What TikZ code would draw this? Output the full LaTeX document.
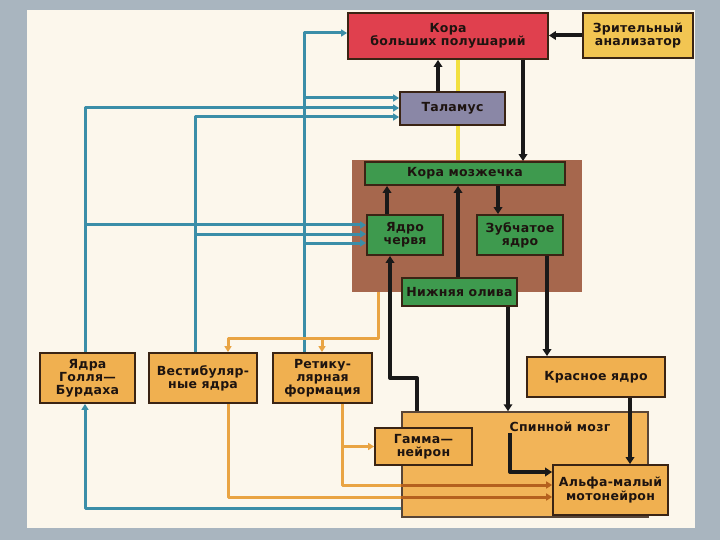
\documentclass[tikz,border=0pt]{standalone}
\usepackage{fontspec}
\setmainfont{DejaVu Sans}
\usetikzlibrary{arrows.meta}
\definecolor{sea}{HTML}{A9B5BF}
\definecolor{paper}{HTML}{FCF7EC}
\definecolor{redb}{HTML}{E0404E}
\definecolor{yelb}{HTML}{F2C552}
\definecolor{talb}{HTML}{8A87A6}
\definecolor{brownb}{HTML}{A6674D}
\definecolor{greenb}{HTML}{3E9A4E}
\definecolor{orb}{HTML}{F0B050}
\definecolor{spinb}{HTML}{F2B458}
\definecolor{edge}{HTML}{3A2414}
\definecolor{blueln}{HTML}{3B8EA8}
\definecolor{orln}{HTML}{E9A443}
\definecolor{orlnd}{HTML}{B5601E}
\definecolor{yelln}{HTML}{F2E040}
\definecolor{txt}{HTML}{1E1410}
\tikzset{
  box/.style={draw=edge, line width=1.8pt, inner sep=0pt, align=center, text=txt,
    font=\fontsize{12.5}{13.2}\selectfont\bfseries\addfontfeatures{LetterSpace=2}},
  bk/.style={line width=4pt, draw=black!90, line join=round, -{Triangle[length=7pt,width=8.5pt]}},
  bl/.style={line width=3pt, draw=blueln, line join=round, -{Triangle[length=6pt,width=7pt]}},
  orl/.style={line width=3pt, draw=orln, line join=round, -{Triangle[length=6pt,width=7pt]}},
  orld/.style={line width=3pt, draw=orlnd, -{Triangle[length=6pt,width=7pt]}},
  yl/.style={line width=3.2pt, draw=yelln},
}
\begin{document}
\begin{tikzpicture}[x=1pt,y=-1pt]
\useasboundingbox (0,0) rectangle (720,540);
\fill[sea] (0,0) rectangle (720,540);
\fill[paper] (27,10) rectangle (695,528);

% helper coordinates
\coordinate (xG) at (85,0);
\coordinate (xV) at (195,0);
\coordinate (xR) at (304,0);
\coordinate (yK) at (0,33);
\coordinate (yT1) at (0,98);
\coordinate (yT2) at (0,108);
\coordinate (yT3) at (0,117);
\coordinate (yC1) at (0,225);
\coordinate (yC2) at (0,234);
\coordinate (yC3) at (0,243);
\coordinate (yB) at (0,508);
\coordinate (xOa) at (378,0);
\coordinate (yO) at (0,338);
\coordinate (xVo) at (228,0);
\coordinate (xRo) at (322,0);
\coordinate (xRb) at (342,0);
\coordinate (yL1) at (0,485);
\coordinate (yL2) at (0,497);
\coordinate (xA) at (438,0);
\coordinate (xB) at (523,0);
\coordinate (xC) at (387,0);
\coordinate (xD) at (458,0);
\coordinate (xE) at (498,0);
\coordinate (xF) at (547,0);
\coordinate (xH) at (630,0);
\coordinate (xI) at (508,0);
\coordinate (xJ) at (417,0);
\coordinate (yJ) at (0,378);
\coordinate (xK) at (390,0);
\coordinate (xL) at (510,0);
\coordinate (yM) at (0,472);

% large containers
\node[draw=edge!85, line width=1.5pt, fill=spinb, minimum width=246pt, minimum height=105pt, inner sep=0pt] (spin) at (525,464.5) {};
\node[fill=brownb, minimum width=230pt, minimum height=132pt, inner sep=0pt] (brown) at (467,226) {};
\node[font=\fontsize{12.5}{13.2}\selectfont\bfseries\addfontfeatures{LetterSpace=2}, text=txt, inner sep=1pt] (spinlbl) at (560,427) {Спинной мозг};

% boxes
\node[box, fill=redb, minimum width=200pt, minimum height=46pt] (kora) at (448,36) {Кора\\больших полушарий};
\node[box, fill=yelb, minimum width=110pt, minimum height=45pt] (zrit) at (638,35.5) {Зрительный\\анализатор};
\node[box, fill=talb, minimum width=105pt, minimum height=33pt] (talamus) at (452.5,108.5) {Таламус};
\node[box, fill=greenb, minimum width=200pt, minimum height=23pt] (koramozh) at (465,173.5) {Кора мозжечка};
\node[box, fill=greenb, minimum width=76pt, minimum height=40pt] (cherv) at (405,235) {Ядро\\червя};
\node[box, fill=greenb, minimum width=86pt, minimum height=40pt] (zub) at (520,235) {Зубчатое\\ядро};
\node[box, fill=greenb, minimum width=115pt, minimum height=28pt] (oliva) at (459.5,292) {Нижняя олива};
\node[box, fill=orb, minimum width=138pt, minimum height=40pt] (krasn) at (596,377) {Красное ядро};
\node[box, fill=orb, minimum width=97pt, minimum height=37pt] (gamma) at (423.5,446.5) {Гамма—\\нейрон};
\node[box, fill=orb, minimum width=115pt, minimum height=50pt] (alfa) at (610.5,490) {Альфа-малый\\мотонейрон};
\node[box, fill=orb, minimum width=95pt, minimum height=50pt] (goll) at (87.5,378) {Ядра\\Голля—\\Бурдаха};
\node[box, fill=orb, minimum width=108pt, minimum height=50pt] (vest) at (203,378) {Вестибуляр-\\ные ядра};
\node[box, fill=orb, minimum width=99pt, minimum height=50pt] (retik) at (322.5,378) {Ретику-\\лярная\\формация};

% yellow line
\draw[yl] (kora.south -| xD) -- (talamus.north -| xD);
\draw[yl] (talamus.south -| xD) -- (brown.north -| xD);

% blue connectors
\draw[bl] (goll.north -| xG) -- (xG |- yT2) -- (talamus.west |- yT2);
\draw[bl] (xG |- yC1) -- (cherv.west |- yC1);
\draw[bl] (vest.north -| xV) -- (xV |- yT3) -- (talamus.west |- yT3);
\draw[bl] (xV |- yC2) -- (cherv.west |- yC2);
\draw[bl] (retik.north -| xR) -- (xR |- yK) -- (kora.west |- yK);
\draw[bl] (xR |- yT1) -- (talamus.west |- yT1);
\draw[bl] (xR |- yC3) -- (cherv.west |- yC3);
\draw[bl] (spin.west |- yB) -- (xG |- yB) -- (goll.south -| xG);

% orange connectors
\draw[orl] (brown.south -| xOa) -- (xOa |- yO) -- (xVo |- yO) -- (vest.north -| xVo);
\draw[orl] (xRo |- yO) -- (retik.north -| xRo);
\draw[orl] (vest.south -| xVo) -- (xVo |- yL2) -- (alfa.west |- yL2);
\draw[orl] (retik.south -| xRb) -- (xRb |- yL1) -- (alfa.west |- yL1);
\draw[orl] (xRb |- gamma.west) -- (gamma.west);
\draw[orld] (spin.west |- yL1) -- (alfa.west |- yL1);
\draw[orld] (spin.west |- yL2) -- (alfa.west |- yL2);

% black connectors
\draw[bk] (zrit.west) -- (kora.east |- zrit.west);
\draw[bk] (talamus.north -| xA) -- (kora.south -| xA);
\draw[bk] (kora.south -| xB) -- (koramozh.north -| xB);
\draw[bk] (cherv.north -| xC) -- (koramozh.south -| xC);
\draw[bk] (oliva.north -| xD) -- (koramozh.south -| xD);
\draw[bk] (koramozh.south -| xE) -- (zub.north -| xE);
\draw[bk] (zub.south -| xF) -- (krasn.north -| xF);
\draw[bk] (krasn.south -| xH) -- (alfa.north -| xH);
\draw[bk] (oliva.south -| xI) -- (spin.north -| xI);
\draw[bk] (spin.north -| xJ) -- (xJ |- yJ) -- (xK |- yJ) -- (cherv.south -| xK);
\draw[bk] (spinlbl.south -| xL) -- (xL |- yM) -- (alfa.west |- yM);
\end{tikzpicture}
\end{document}
